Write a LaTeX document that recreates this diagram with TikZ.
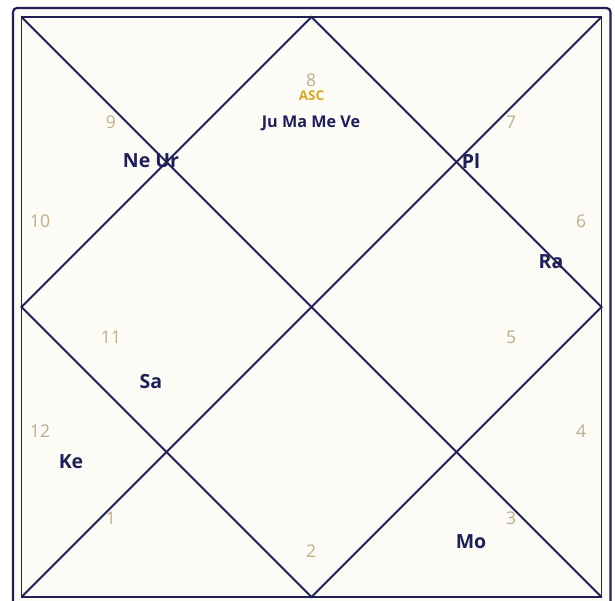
\documentclass[tikz,border=0pt]{standalone}
\usepackage{fontspec}
\setmainfont{Open Sans}
\definecolor{navy}{RGB}{32,32,88}
\definecolor{housetan}{RGB}{190,174,138}
\definecolor{ascgold}{RGB}{214,166,40}
\definecolor{paper}{RGB}{252,251,246}

\begin{document}
\begin{tikzpicture}[x=1pt,y=-1pt]
    % Define styles
    \tikzstyle{chartline} = [draw=navy, line width=1.8pt]
    \tikzstyle{frame} = [draw=navy, line width=2.2pt, rounded corners=4pt, fill=paper]
    \tikzstyle{house} = [text=housetan, inner sep=0pt, font=\fontsize{17.5}{19}\selectfont]
    \tikzstyle{planet} = [text=navy, inner sep=0pt, font=\fontsize{19.5}{22}\selectfont\bfseries]
    \tikzstyle{bigplanet} = [planet, font=\fontsize{16.2}{19}\selectfont\bfseries]
    \tikzstyle{asc} = [text=ascgold, inner sep=0pt, font=\fontsize{13.5}{15}\selectfont\bfseries]

    \useasboundingbox[fill=white] (0,0) rectangle (615,601);

    % Outer frame
    \draw[frame] (13,8) rectangle (610.5,615);

    % Chart corners and midpoints
    \coordinate (tl) at (21.5,17);
    \coordinate (tr) at (601.5,17);
    \coordinate (bl) at (21.5,597);
    \coordinate (br) at (601.5,597);
    \coordinate (mt) at (311.5,17);
    \coordinate (ml) at (21.5,307);
    \coordinate (mr) at (601.5,307);
    \coordinate (mb) at (311.5,597);

    \draw[chartline] (tl) rectangle (br);
    \draw[chartline] (tl) -- (br);
    \draw[chartline] (tr) -- (bl);
    \draw[chartline] (mt) -- (ml) -- (mb) -- (mr) -- cycle;

    % House numbers
    \node[house] (h1) at (111,518) {1};
    \node[house] (h2) at (311,551) {2};
    \node[house] (h3) at (511,518) {3};
    \node[house] (h4) at (581,431) {4};
    \node[house] (h5) at (511,337) {5};
    \node[house] (h6) at (581,221) {6};
    \node[house] (h7) at (511,122) {7};
    \node[house] (h8) at (311,80) {8};
    \node[house] (h9) at (111,122) {9};
    \node[house] (h10) at (40,221) {10};
    \node[house] (h11) at (111,337) {11};
    \node[house] (h12) at (40,431) {12};

    % Ascendant
    \node[asc] (asc) at (311.5,96) {ASC};

    % Planets
    \node[bigplanet] (p8) at (311,123) {Ju Ma Me Ve};
    \node[planet] (p9) at (151,161) {Ne Ur};
    \node[planet] (p7) at (471,161) {Pl};
    \node[planet] (p6) at (551,262) {Ra};
    \node[planet] (p11) at (151,382) {Sa};
    \node[planet] (p12) at (71,462) {Ke};
    \node[planet] (p3) at (471,542) {Mo};

\end{tikzpicture}
\end{document}
